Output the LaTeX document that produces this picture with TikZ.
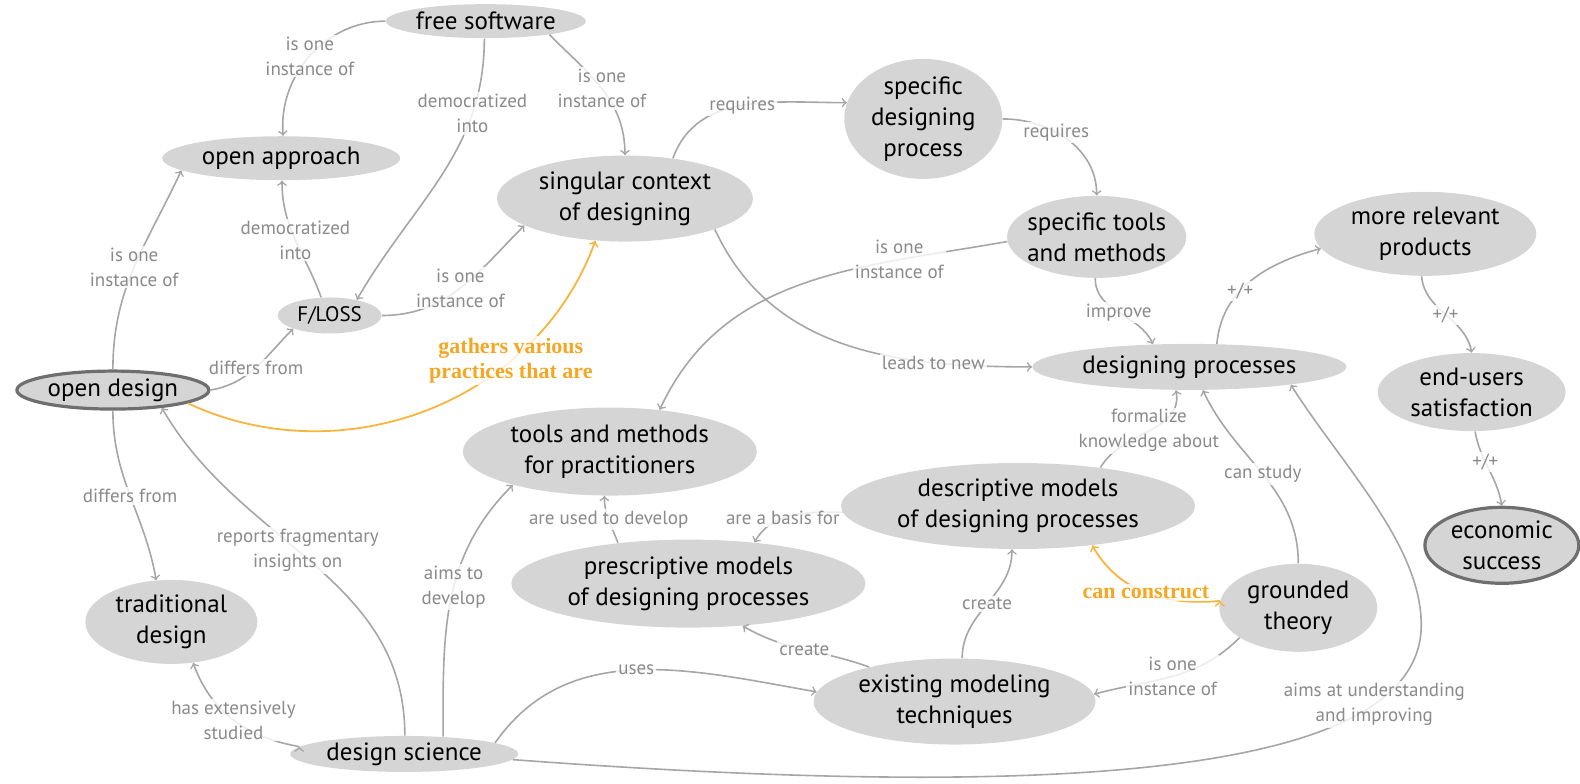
\documentclass[tikz,border=0pt]{standalone}
\usepackage{fontspec}
\setmainfont{PT Sans}
\newfontfamily\hotfont{Liberation Serif}
\usepackage{tikz}
\usetikzlibrary{arrows,shapes}

\definecolor{nodegray}{HTML}{D5D5D5}
\definecolor{edgegray}{HTML}{A6A6A6}
\definecolor{labelgray}{HTML}{8A8A8A}
\definecolor{keygray}{HTML}{6E6E6E}
\definecolor{hotorange}{HTML}{F8B53E}
\definecolor{hottext}{HTML}{F5A623}

\begin{document}
\begin{tikzpicture}[x=0.504pt,y=-0.504pt]
	\tikzset{concept/.style={ellipse,fill=nodegray,inner xsep=-3pt,inner ysep=0pt,align=center,font=\fontsize{12.5}{15.5}\selectfont},
		key/.style={concept,draw=keygray,line width=1.6pt},
		rel/.style={draw=edgegray,line width=0.8pt},
		lbl/.style={fill=white,fill opacity=0.8,text opacity=1,text=labelgray,inner sep=1pt,align=center,font=\fontsize{9.5}{12.5}\selectfont},
		hot/.style={draw=hotorange,line width=0.9pt},
		hotlbl/.style={lbl,text=hottext,font=\hotfont\bfseries\fontsize{11}{12.5}\selectfont}}
	\useasboundingbox (0,0) rectangle (1567.5,777.8);
	\node[concept,minimum width=100pt,minimum height=17pt] (free) at (482,21) {free software};
	\node[concept,minimum width=119pt,minimum height=22pt] (openapp) at (279,157) {open approach};
	\node[concept,minimum width=128pt,minimum height=43pt] (singular) at (620,197) {singular context\\of designing};
	\node[concept,minimum width=79pt,minimum height=60pt] (sdp) at (916,118) {specific\\designing\\process};
	\node[concept,minimum width=85pt,minimum height=41pt] (stools) at (1088,235) {specific tools\\and methods};
	\node[concept,minimum width=111pt,minimum height=42pt] (relevant) at (1414,232) {more relevant\\products};
	\node[concept,minimum width=157pt,minimum height=23pt] (dproc) at (1180,364) {designing processes};
	\node[concept,minimum width=94pt,minimum height=39pt] (endusers) at (1460,389) {end-users\\satisfaction};
	\node[key,minimum width=77pt,minimum height=38pt] (econ) at (1490,541) {economic\\success};
	\node[key,minimum width=96pt,minimum height=19pt] (opend) at (112,387) {open design};
	\node[concept,minimum width=52pt,minimum height=18pt] (floss) at (327,313) {\fontsize{10.5}{12}\selectfont F/LOSS};
	\node[concept,minimum width=147pt,minimum height=44pt] (tools) at (605,448) {tools and methods\\for practitioners};
	\node[concept,minimum width=177pt,minimum height=43pt] (descr) at (1010,502) {descriptive models\\of designing processes};
	\node[concept,minimum width=177pt,minimum height=44pt] (prescr) at (683,579) {prescriptive models\\of designing processes};
	\node[concept,minimum width=86pt,minimum height=42pt] (trad) at (170,617) {traditional\\design};
	\node[concept,minimum width=79pt,minimum height=44pt] (grounded) at (1288,603) {grounded\\theory};
	\node[concept,minimum width=141pt,minimum height=43pt] (existing) at (947,696) {existing modeling\\techniques};
	\node[concept,minimum width=114pt,minimum height=18pt] (dsci) at (401,748) {design science};
	\path[->,rel]
		(free.west) edge[out=180,in=95] node[lbl] {is one\\instance of} (openapp.85)
		(free.-95) edge[out=-90,in=60] node[lbl,pos=0.25] {democratized\\into} (floss.30)
		(free.-12) edge[out=-45,in=90] node[lbl] {is one\\instance of} (singular.north)
		(opend.north) edge[out=90,in=-115] node[lbl] {is one\\instance of} (openapp.187)
		(floss.115) edge[out=110,in=-90] node[lbl] {democratized\\into} (openapp.-88)
		(floss.east) edge[out=0,in=-135] node[lbl] {is one\\instance of} (singular.-165)
		(opend.east) edge[out=10,in=-135] node[lbl] {differs from} (floss.-160)
		(opend.-90) edge[out=-90,in=100] node[lbl] {differs from} (trad.110)
		(singular.40) edge[out=70,in=180] node[lbl] {requires} (sdp.168)
		(sdp.east) edge[out=0,in=90] node[lbl,pos=0.4] {requires} (stools.north)
		(singular.-19) edge[out=-65,in=180] node[lbl,pos=0.75] {leads to new} (dproc.west)
		(stools.183) edge[out=190,in=65] node[lbl,pos=0.25] {is one\\instance of} (tools.40)
		(stools.-92) edge[out=-90,in=115] node[lbl] {improve} (dproc.148)
		(dproc.40) edge[out=85,in=195] node[lbl,pos=0.4] {+/+} (relevant.188)
		(relevant.-95) edge[out=-85,in=100] node[lbl] {+/+} (endusers.north)
		(endusers.-85) edge[out=-80,in=100] node[lbl,pos=0.4] {+/+} (econ.north)
		(descr.25) edge[out=60,in=-80] node[lbl] {formalize\\knowledge about} (dproc.-120)
		(grounded.north) edge[out=90,in=-65] node[lbl] {can study} (dproc.-60)
		(descr.182) edge[out=180,in=60] node[lbl,pos=0.6] {are a basis for} (prescr.32)
		(prescr.150) edge[out=110,in=-90] node[lbl] {are used to develop} (tools.-97)
		(grounded.-153) edge[out=-135,in=15] node[lbl] {is one\\instance of} (existing.3)
		(existing.80) edge[out=90,in=-90] node[lbl] {create} (descr.-98)
		(existing.158) edge[out=160,in=-30] node[lbl] {create} (prescr.-38)
		(dsci.7) edge[out=55,in=170] node[lbl,pos=0.5] {uses} (existing.176)
		(dsci.24) edge[out=90,in=-135] node[lbl,pos=0.55] {aims to\\develop} (tools.-161)
		(dsci.88) edge[out=90,in=-60] node[lbl,pos=0.55] {reports fragmentary\\insights on} (opend.-20)
		(dsci.176) edge[out=170,in=-70] node[lbl] {has extensively\\studied} (trad.-62);
	\draw[->,rel] (dsci.-3) .. controls (1000,790) and (1410,780) .. (1410,620)
		node[lbl,pos=0.8] {aims at understanding\\and improving}
		.. controls (1410,540) and (1330,460) .. (dproc.-10);
	\path[->,hot]
		(opend.-10) edge[out=-25,in=-110] node[hotlbl,pos=0.7] {gathers various\\practices that are} (singular.-125)
		(grounded.175) edge[out=185,in=-60] node[hotlbl,pos=0.5] {can construct} (descr.-28);
\end{tikzpicture}
\end{document}
